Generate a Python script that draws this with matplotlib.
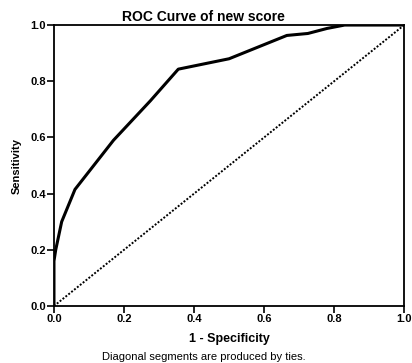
import matplotlib
matplotlib.use("Agg")
import matplotlib.pyplot as plt
import numpy as np

plt.rcParams['font.family'] = ['Liberation Sans', 'DejaVu Sans']

# ROC points
fpr = [0.0, 0.0, 0.005, 0.022, 0.06, 0.17, 0.275, 0.355, 0.50, 0.665, 0.725, 0.78, 0.83, 1.0]
tpr = [0.0, 0.16, 0.20, 0.30, 0.415, 0.59, 0.73, 0.843, 0.88, 0.963, 0.97, 0.988, 1.0, 1.0]
ref_line = [0.0, 1.0]
ticks = [0.0, 0.2, 0.4, 0.6, 0.8, 1.0]

fig = plt.figure(figsize=(4.12, 3.63), dpi=100)
ax = fig.add_axes([0.131, 0.157, 0.850, 0.774])

ax.plot(fpr, tpr, color="black", lw=2.2, solid_joinstyle="round")
ax.plot(ref_line, ref_line, color="black", lw=1.4, ls=(0, (1, 0.9)))

ax.set_xlim(0, 1)
ax.set_ylim(0, 1)
ax.set_xticks(ticks)
ax.set_yticks(ticks)
ax.set_xticklabels([f"{t:.1f}" for t in ticks], fontweight="bold", fontsize=8)
ax.set_yticklabels([f"{t:.1f}" for t in ticks], fontweight="bold", fontsize=8)
ax.tick_params(direction="out", length=5, width=1.2, pad=1)
for s in ax.spines.values():
    s.set_linewidth(1.3)

ax.set_xlabel("1 - Specificity", fontweight="bold", fontsize=9, labelpad=6)
ax.set_ylabel("Sensitivity", fontweight="bold", fontsize=8, labelpad=6)

fig.text(0.494, 0.953, "ROC Curve of new score", ha="center", va="center",
         fontweight="bold", fontsize=10)
fig.text(0.494, 0.017, "Diagonal segments are produced by ties.", ha="center",
         va="center", fontsize=8)

fig.savefig("out.png", dpi=100)
